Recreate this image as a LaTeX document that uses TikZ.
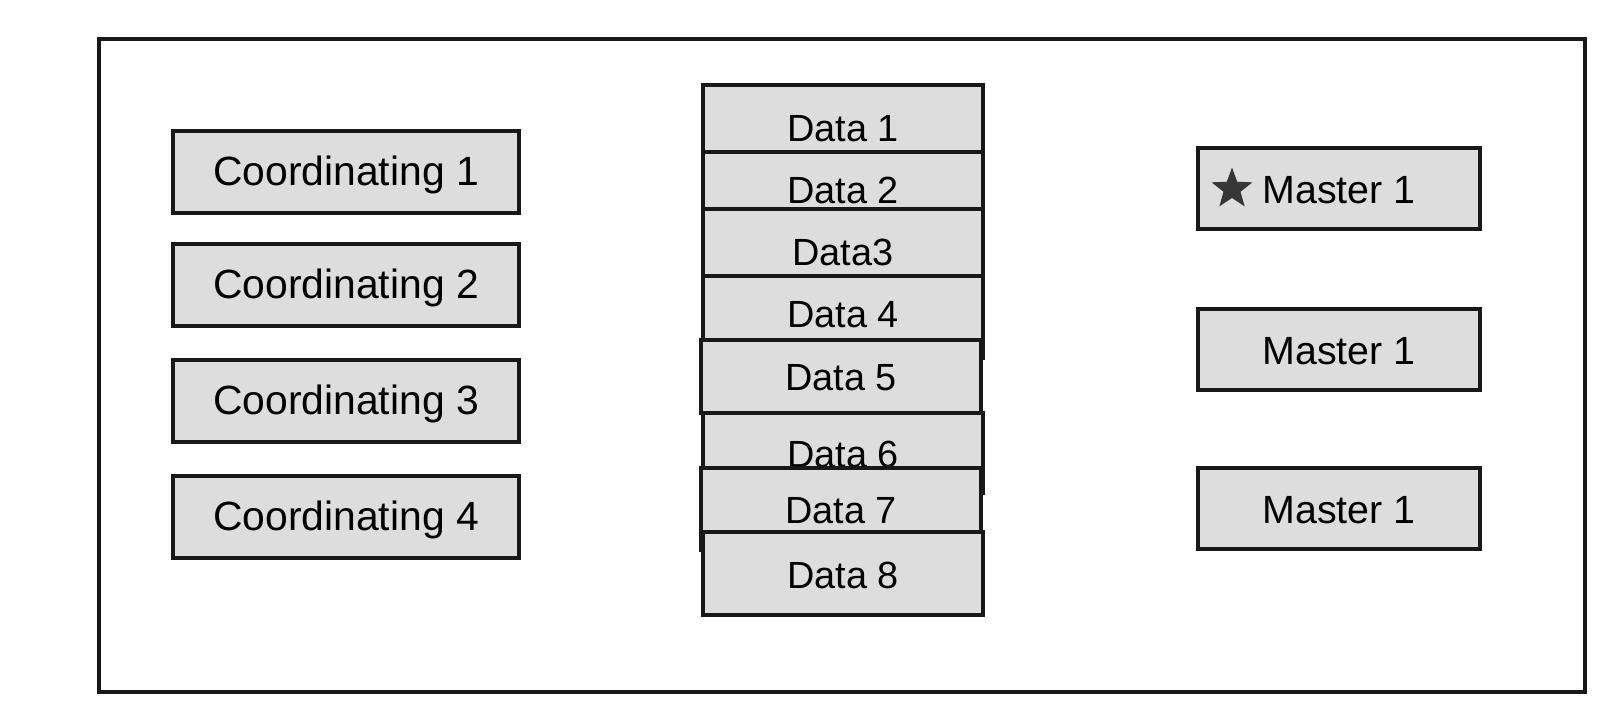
\documentclass[tikz,border=0pt]{standalone}
\usepackage{fontspec}
\setmainfont{Liberation Sans}
\usetikzlibrary{shapes.geometric}
\definecolor{boxfill}{RGB}{221,221,221}
\definecolor{boxline}{RGB}{24,24,24}
\definecolor{starcol}{RGB}{55,55,55}
\tikzset{
  box/.style={draw=boxline, fill=boxfill, line width=3.2bp, inner sep=0pt, anchor=base, minimum height=1pt},
  coordbox/.style={box, minimum width=346bp, text height=54bp, text depth=28bp, font=\fontsize{41}{49}\selectfont},
  masterbox/.style={box, minimum width=282bp, text height=55bp, text depth=26bp, font=\fontsize{39.5}{47}\selectfont},
  databox/.style={box, minimum width=280bp, font=\fontsize{38}{45}\selectfont},
}
\begin{document}
\begin{tikzpicture}[x=1bp, y=-1bp]
\useasboundingbox (0,0) rectangle (1614,711);
\node[draw=boxline, line width=4bp, minimum width=1486bp, minimum height=653bp, inner sep=0pt] (frame) at (842,365.5) {};
% coordinating
\node[coordbox] (c1) at (346,185) {Coordinating 1};
\node[coordbox] (c2) at (346,298) {Coordinating 2};
\node[coordbox] (c3) at (346,414) {Coordinating 3};
\node[coordbox] (c4) at (346,530) {Coordinating 4};
% data
\node[databox, text height=57bp, text depth=31bp] (d1) at (843,142) {Data 1};
\node[databox, text height=51bp, text depth=29bp] (d2) at (843,203) {Data 2};
\node[databox, text height=56bp, text depth=28bp] (d3) at (843,265) {Data3};
\node[databox, text height=51bp, text depth=31bp] (d4) at (843,327) {Data 4};
\node[databox, text height=50bp, text depth=23bp] (d5) at (841,390) {Data 5};
\node[databox, text height=54bp, text depth=26bp] (d6) at (843,467) {Data 6};
\node[databox, text height=55bp, text depth=27bp] (d7) at (841,523) {Data 7};
\node[databox, text height=56bp, text depth=27bp] (d8) at (843,588) {Data 8};
% masters
\node[masterbox] (m1) at (1339,203) {Master 1};
\node[masterbox] (m2) at (1339,364) {Master 1};
\node[masterbox] (m3) at (1339,523) {Master 1};
\node[star, star points=5, star point ratio=2.4, fill=starcol, inner sep=0pt, minimum size=43bp] (star) at (1232,189) {};
\end{tikzpicture}
\end{document}
